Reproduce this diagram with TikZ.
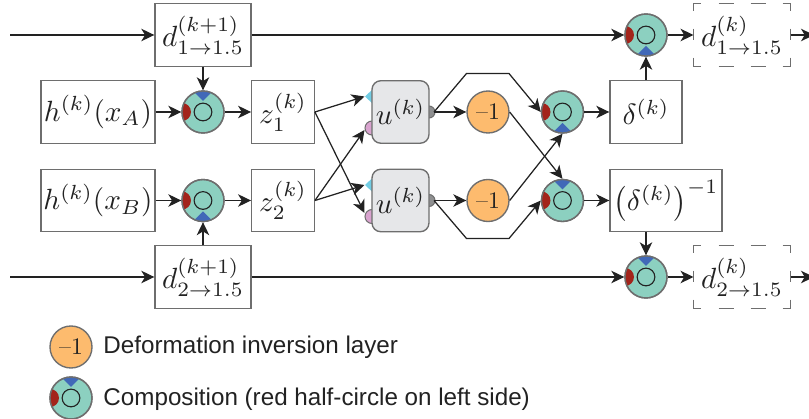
\documentclass[tikz,border=0pt]{standalone}
\usepackage{fontspec}
\usepackage{graphicx}
\setmainfont{Liberation Sans}
\newfontfamily\lmr{Latin Modern Roman}
\usetikzlibrary{arrows.meta}
\definecolor{comp}{HTML}{8CD0C0}
\definecolor{compred}{HTML}{A3241B}
\definecolor{compblue}{HTML}{4169B8}
\definecolor{inv}{HTML}{FDBB6E}
\definecolor{bord}{HTML}{6E6E6E}
\definecolor{ink}{HTML}{222222}
\definecolor{ugray}{HTML}{E6E7E9}
\definecolor{pcyan}{HTML}{72CDE4}
\definecolor{ppink}{HTML}{D9A3CF}
\definecolor{pgray}{HTML}{8F9091}
\tikzset{
  box/.style={draw=bord,line width=.55pt,fill=white,inner sep=0pt,text=ink},
  dbox/.style={fill=white,inner sep=0pt,text=ink},
  dhoriz/.style={draw=bord,line width=.55pt,dash pattern=on 3.2pt off 6.8pt on 6pt off 6.8pt on 6pt off 6.8pt on 4pt},
  dvert/.style={draw=bord,line width=.55pt,dash pattern=on 3.2pt off 7pt on 4.6pt off 7pt on 4pt},
  unet/.style={draw=bord,line width=.55pt,fill=ugray,rounded corners=3.5pt,inner sep=0pt,text=ink,minimum width=22.8pt,minimum height=25pt},
  invn/.style={circle,draw=bord,line width=.55pt,fill=inv,inner sep=0pt,minimum size=16.8pt,text=ink},
  compn/.style={circle,draw=bord,line width=.55pt,fill=comp,inner sep=0pt,minimum size=16.8pt},
  link/.style={draw=ink,line width=.5pt},
  arr/.style={link,-{Stealth[length=5.2pt,width=5pt,inset=1.5pt]}},
  port/.style={draw=bord,line width=.4pt},
  legendtext/.style={anchor=west,inner sep=0pt,text=ink,font=\fontsize{9.68}{11}\selectfont},
}
\newcommand{\mth}[1]{\scalebox{1.17}{$#1$}}
\newcommand{\minus}{\scalebox{0.95}{\lmr –1}}
\newcommand{\compo}[4]{%
  \node[compn] (#1) at (#2,#3) {};
  \begin{scope}
    \clip (#1.center) circle (8.4pt);
    \fill[compred] (#2-21,#3) circle (3.6pt);
    \fill[compblue] (#2-11,#3+#4*22) -- (#2+11,#3+#4*22) -- (#2,#3+#4*11) -- cycle;
  \end{scope}
  \draw[bord,line width=.55pt] (#1.center) circle (8.4pt);
  \draw[ink,line width=.45pt] (#1.center) circle (3.55pt);
}
\newcommand{\ports}[1]{%
  \fill[pcyan] (365,#1-15.5) -- (373,#1-23) -- (373,#1-8) -- cycle;
  \draw[port,fill=ppink] (372,#1+16) circle (2.8pt);
  \draw[port,fill=pgray] (429,#1) circle (2.4pt);
}
\newcommand{\dashedframe}[1]{%
  \draw[dhoriz] (#1.north west) -- (#1.north east);
  \draw[dhoriz] (#1.south west) -- (#1.south east);
  \draw[dvert] (#1.north west) -- (#1.south west);
  \draw[dvert] (#1.north east) -- (#1.south east);
}
\begin{document}
\begin{tikzpicture}[x=0.4pt,y=-0.4pt]
\useasboundingbox (0,0) rectangle (809,419);
\ports{112}
\ports{200.5}
\node[box,minimum width=38.4pt,minimum height=25pt] (d1) at (203,35) {\mth{d^{(k+1)}_{1\to1.5}}};
\node[box,minimum width=38.4pt,minimum height=25pt] (d2) at (203,277) {\mth{d^{(k+1)}_{2\to1.5}}};
\node[box,minimum width=45.6pt,minimum height=25pt] (ha) at (98,112) {\mth{h^{(k)}(x_A)}};
\node[box,minimum width=45.6pt,minimum height=25pt] (hb) at (98,200.5) {\mth{h^{(k)}(x_B)}};
\node[box,minimum width=25pt,minimum height=25pt] (z1) at (283,112) {\mth{z_1^{(k)}}};
\node[box,minimum width=25pt,minimum height=25pt] (z2) at (283,200.5) {\mth{z_2^{(k)}}};
\node[unet] (u1) at (400.5,112) {\mth{u^{(k)}}};
\node[unet] (u2) at (400.5,200.5) {\mth{u^{(k)}}};
\node[invn] (m1) at (488,112) {\minus};
\node[invn] (m2) at (488,200.5) {\minus};
\node[box,minimum width=28.8pt,minimum height=25pt] (del) at (646,112) {\mth{\delta^{(k)}}};
\node[box,minimum width=44.8pt,minimum height=25pt] (dinv) at (666,200.5) {\mth{\bigl(\delta^{(k)}\bigr)^{-1}}};
\node[dbox,minimum width=38.4pt,minimum height=25pt] (o1) at (742,35) {\mth{d^{(k)}_{1\to1.5}}};
\node[dbox,minimum width=38.4pt,minimum height=25pt] (o2) at (742,277) {\mth{d^{(k)}_{2\to1.5}}};
\dashedframe{o1}
\dashedframe{o2}
\compo{c1}{203}{112}{-1}
\compo{c2}{203}{200.5}{1}
\compo{c3}{646}{35}{1}
\compo{c4}{646}{277}{-1}
\compo{c5}{562.5}{112}{1}
\compo{c6}{562.5}{200.5}{-1}
\coordinate (s1) at (10,35);
\coordinate (s2) at (10,277);
\coordinate (e1) at (814,35);
\coordinate (e2) at (814,277);
\coordinate (g1) at (434,112);
\coordinate (g2) at (434,200.5);
\coordinate (a1) at (466.5,73.5);
\coordinate (b1) at (509,73.5);
\coordinate (a2) at (466.5,238.5);
\coordinate (b2) at (509,238.5);
\coordinate (cy1) at (364.5,96.5);
\coordinate (pk1) at (364.5,130);
\coordinate (cy2) at (364.5,185);
\coordinate (pk2) at (364.5,213);
\draw[arr] (s1) -- (d1);
\draw[arr] (s2) -- (d2);
\draw[arr] (d1) -- (c3);
\draw[arr] (d2) -- (c4);
\draw[arr] (d1) -- (c1);
\draw[arr] (d2) -- (c2);
\draw[arr] (ha) -- (c1);
\draw[arr] (hb) -- (c2);
\draw[arr] (c1) -- (z1);
\draw[arr] (c2) -- (z2);
\draw[arr] (z1.east) -- (cy1);
\draw[arr] (z1.east) -- (pk2);
\draw[arr] (z2.east) -- (cy2);
\draw[arr] (z2.east) -- (pk1);
\draw[arr] (g1) -- (m1);
\draw[arr] (g2) -- (m2);
\draw[arr] (g1) -- (a1) -- (b1) -- (c5.west);
\draw[arr] (g2) -- (a2) -- (b2) -- (c6.west);
\draw[arr] (m1.east) -- (c6.north);
\draw[arr] (m2.east) -- (c5.south);
\draw[arr] (c5) -- (del);
\draw[arr] (c6) -- (dinv);
\draw[arr] (del) -- (c3);
\draw[arr] (dinv.south -| c4) -- (c4);
\draw[arr] (c3) -- (o1.west);
\draw[arr] (c4) -- (o2.west);
\draw[arr] (o1.east) -- (e1);
\draw[arr] (o2.east) -- (e2);
\node[invn] (l1) at (71,347) {\minus};
\compo{l2}{71}{398}{-1}
\node[legendtext] (lt1) at (103,347) {Deformation inversion layer};
\node[legendtext] (lt2) at (103,399) {Composition (red half-circle on left side)};
\end{tikzpicture}
\end{document}
